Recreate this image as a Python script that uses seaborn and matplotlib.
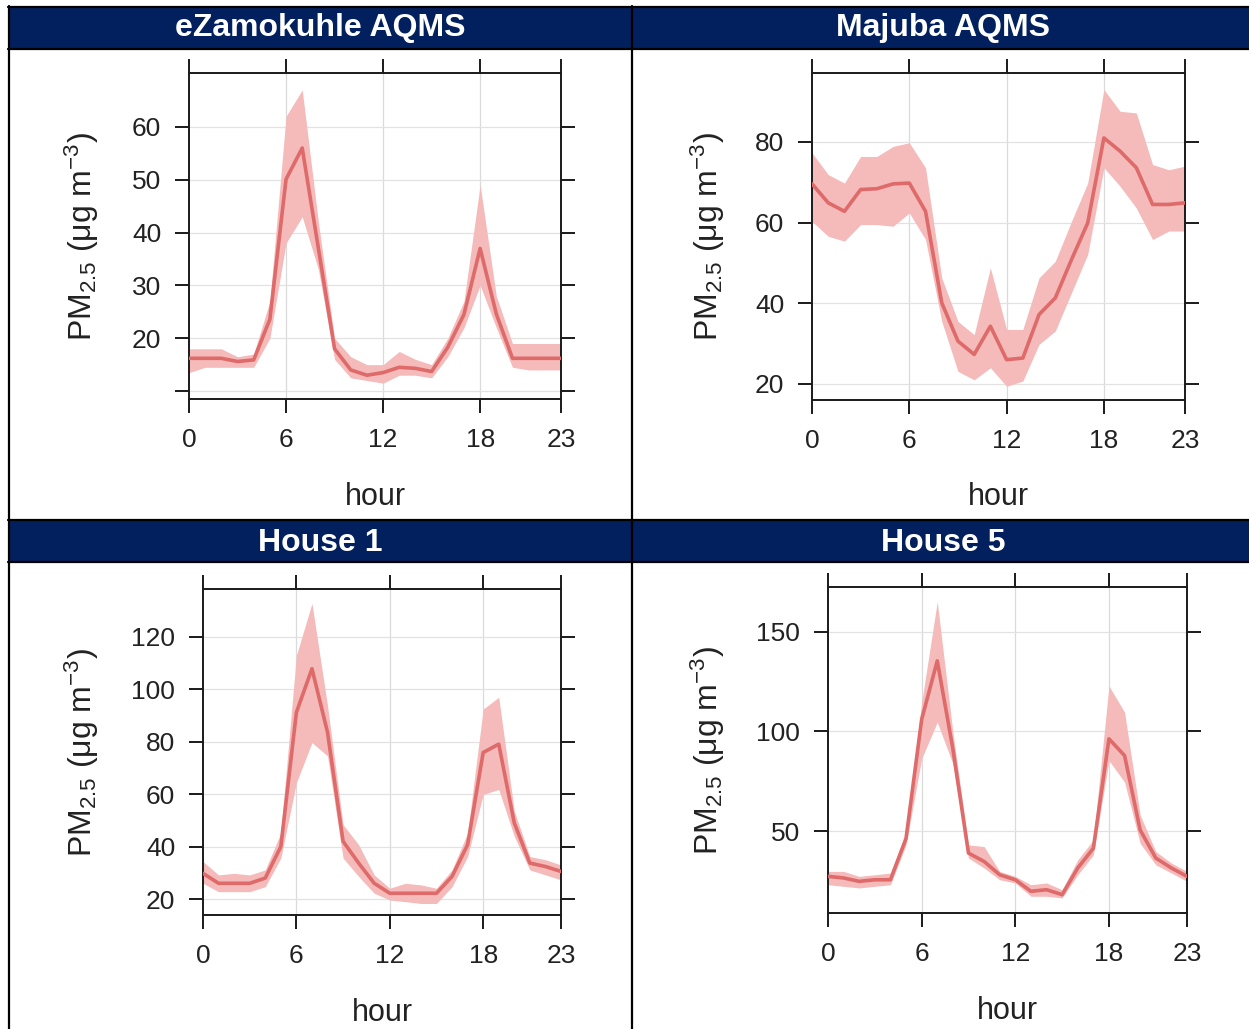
import numpy as np
import pandas as pd
import matplotlib
matplotlib.use("Agg")
import matplotlib.pyplot as plt
from matplotlib.patches import Rectangle
from matplotlib.lines import Line2D
import seaborn as sns

# ---------------- data ----------------
hours = list(range(24))
titles = ["eZamokuhle AQMS", "Majuba AQMS", "House 1", "House 5"]

ezam_mean = [16.2, 16.2, 16.2, 15.6, 15.9, 23.6, 50.1, 56.0, 37.0, 18.0, 14.0, 13.0,
             13.5, 14.5, 14.3, 13.7, 18.3, 24.5, 37.0, 24.6, 16.2, 16.2, 16.2, 16.2]
ezam_upper = [18.0, 18.0, 18.0, 16.5, 17.0, 27.0, 62.0, 67.0, 42.0, 20.0, 16.5, 15.0,
              15.0, 17.5, 16.0, 15.0, 20.0, 27.0, 49.0, 28.0, 19.0, 19.0, 19.0, 19.0]
ezam_lower = [13.5, 14.5, 14.5, 14.5, 14.5, 20.0, 38.0, 43.0, 33.0, 16.0, 12.5, 12.0,
              11.5, 13.0, 13.0, 12.5, 16.5, 22.0, 30.0, 22.0, 14.5, 14.0, 14.0, 14.0]

maj_mean = [69.6, 64.9, 62.8, 68.2, 68.4, 69.6, 69.8, 62.8, 40.1, 30.6, 27.3, 34.3,
            26.0, 26.4, 37.2, 41.3, 50.8, 59.9, 81.0, 77.7, 73.6, 64.5, 64.5, 64.9]
maj_upper = [77.3, 71.9, 69.8, 76.4, 76.4, 78.9, 79.8, 73.6, 46.3, 35.5, 32.2, 48.8,
             33.5, 33.5, 46.3, 50.4, 60.3, 69.8, 93.0, 87.6, 87.2, 74.4, 73.1, 74.0]
maj_lower = [60.3, 56.6, 55.4, 59.5, 59.5, 59.1, 62.4, 55.8, 35.5, 23.1, 21.0, 24.0,
             19.4, 20.7, 29.8, 33.1, 42.6, 52.1, 73.6, 69.0, 63.6, 55.8, 57.9, 57.9]

h1_mean = [29.8, 26.0, 26.0, 26.0, 28.0, 40.0, 91.2, 107.9, 83.6, 42.0, 33.7, 26.0,
           22.2, 22.2, 22.2, 22.2, 28.6, 40.7, 75.9, 79.1, 49.0, 33.7, 32.4, 30.5]
h1_upper = [34.3, 29.2, 29.8, 29.2, 31.1, 45.2, 113.0, 132.8, 93.8, 48.4, 40.7, 29.2,
            24.1, 26.0, 25.4, 24.1, 31.1, 45.2, 92.5, 97.0, 53.5, 36.2, 35.0, 33.0]
h1_lower = [26.0, 22.8, 22.8, 22.8, 24.7, 35.6, 64.4, 79.7, 74.6, 35.6, 28.6, 22.2,
            19.6, 19.0, 18.3, 18.3, 24.7, 36.2, 59.9, 61.8, 43.9, 31.1, 29.2, 27.3]

h5_mean = [27.2, 26.4, 24.7, 25.5, 25.5, 46.3, 106.0, 135.5, 91.3, 38.9, 34.7, 28.0,
           25.5, 19.7, 20.5, 18.0, 31.4, 41.3, 96.3, 87.9, 50.5, 36.4, 31.4, 27.2]
h5_upper = [29.7, 29.7, 27.2, 28.0, 28.9, 48.8, 114.6, 165.3, 99.7, 43.0, 42.2, 29.7,
            27.2, 23.0, 23.9, 20.5, 35.5, 45.5, 122.9, 109.7, 58.0, 39.7, 33.9, 29.7]
h5_lower = [23.0, 22.2, 21.4, 22.2, 23.0, 43.0, 86.4, 104.7, 83.8, 36.4, 31.4, 25.5,
            23.9, 17.2, 17.2, 16.4, 28.0, 38.0, 85.4, 74.6, 43.8, 33.0, 28.9, 24.7]

means = [ezam_mean, maj_mean, h1_mean, h5_mean]
uppers = [ezam_upper, maj_upper, h1_upper, h5_upper]
lowers = [ezam_lower, maj_lower, h1_lower, h5_lower]

yticks_list = [[10, 20, 30, 40, 50, 60], [20, 40, 60, 80],
               [20, 40, 60, 80, 100, 120], [50, 100, 150]]
ytick_labels_list = [["", "20", "30", "40", "50", "60"], ["20", "40", "60", "80"],
                     ["20", "40", "60", "80", "100", "120"], ["50", "100", "150"]]
ylims = [(8.5, 70.2), (16.0, 97.1), (13.9, 138.3), (8.8, 172.6)]
xticks = [0, 6, 12, 18, 23]

# ---------------- style ----------------
sns.set_theme(style="white")
plt.rcParams["font.family"] = ["Liberation Sans", "DejaVu Sans"]
plt.rcParams["mathtext.fontset"] = "custom"
plt.rcParams["mathtext.rm"] = "Liberation Sans"
plt.rcParams["mathtext.it"] = "Liberation Sans:italic"
plt.rcParams["mathtext.bf"] = "Liberation Sans:bold"

W, H = 1249, 1029
fig = plt.figure(figsize=(W / 100, H / 100), dpi=100)
fig.patch.set_facecolor("white")

def fx(x):
    return x / W

def fy(y):
    return 1 - y / H

NAVY = "#03205E"
LINE_C = "#DE6A6A"
BAND_C = "#F5BABA"
TXT = "#222222"

# headers
for (x0, x1, y0, y1) in [(9, 1249, 7, 48), (9, 1249, 520, 562)]:
    fig.add_artist(Rectangle((fx(x0), fy(y1)), fx(x1) - fx(x0), fy(y0) - fy(y1),
                             transform=fig.transFigure, facecolor=NAVY,
                             edgecolor="none", zorder=0))
# borders
lw_b = 1.6
for yy in [6.5, 48.5, 519.5, 562]:
    fig.add_artist(Line2D([fx(8), fx(1249)], [fy(yy), fy(yy)], transform=fig.transFigure,
                          color="black", lw=lw_b))
for xx in [9, 632]:
    fig.add_artist(Line2D([fx(xx), fx(xx)], [fy(6), fy(1029)], transform=fig.transFigure,
                          color="black", lw=lw_b))

# titles
title_pos = [(320, 28), (943, 28), (320, 543), (943, 543)]
for t, (tx, ty) in zip(titles, title_pos):
    fig.text(fx(tx), fy(ty), t, color="white", fontsize=23, fontweight="bold",
             ha="center", va="center", family=["Liberation Sans", "DejaVu Sans"])

# axes boxes in pixels: (left, top, right, bottom)
boxes = [(189, 73, 561, 399), (812, 73, 1185, 400),
         (203, 589, 561, 915), (828, 587, 1187, 913)]
ylabel_x = [82, 708, 82, 708]
hour_y = [497, 497, 1013, 1011]

for i in range(4):
    l, t, r, b = boxes[i]
    ax = fig.add_axes([fx(l), fy(b), fx(r) - fx(l), fy(t) - fy(b)])
    df = pd.DataFrame({"hour": hours, "pm": means[i],
                       "lo": lowers[i], "hi": uppers[i]})
    ax.fill_between(df["hour"], df["lo"], df["hi"], color=BAND_C, lw=0, zorder=2)
    sns.lineplot(data=df, x="hour", y="pm", ax=ax, color=LINE_C, lw=2.6,
                 errorbar=None, zorder=3)
    ax.set_xlim(0, 23)
    ax.set_ylim(*ylims[i])
    ax.set_xticks(xticks)
    ax.set_xticklabels([str(v) for v in xticks])
    ax.set_yticks(yticks_list[i])
    ax.set_yticklabels(ytick_labels_list[i])
    ax.set_axisbelow(True)
    for v in [6, 12, 18]:
        ax.axvline(v, color="#DADADA", lw=0.9, zorder=1)
    for v in yticks_list[i]:
        ax.axhline(v, color="#E2E2E2", lw=0.9, zorder=1)
    for s in ax.spines.values():
        s.set_visible(True)
        s.set_color("#1a1a1a")
        s.set_linewidth(1.4)
    ax.tick_params(axis="both", direction="out", length=10, width=1.4,
                   color="#1a1a1a", top=True, right=True, bottom=True, left=True,
                   labeltop=False, labelright=False, labelsize=19, labelcolor=TXT)
    ax.tick_params(axis="x", pad=11)
    ax.tick_params(axis="y", pad=10)
    hb = b - t
    ax.set_xlabel("hour", fontsize=22, color=TXT)
    ax.xaxis.label.set_va("center")
    ax.xaxis.set_label_coords(0.5, (b - hour_y[i]) / hb)
    ax.set_ylabel(r"PM$_{\mathrm{2.5}}$ (μg m$^{\mathrm{-3}}$)", fontsize=23, color=TXT)
    ax.yaxis.label.set_va("center")
    ax.yaxis.set_label_coords((ylabel_x[i] - l) / (r - l), 0.5)

fig.savefig("out.png", dpi=100, facecolor="white")
